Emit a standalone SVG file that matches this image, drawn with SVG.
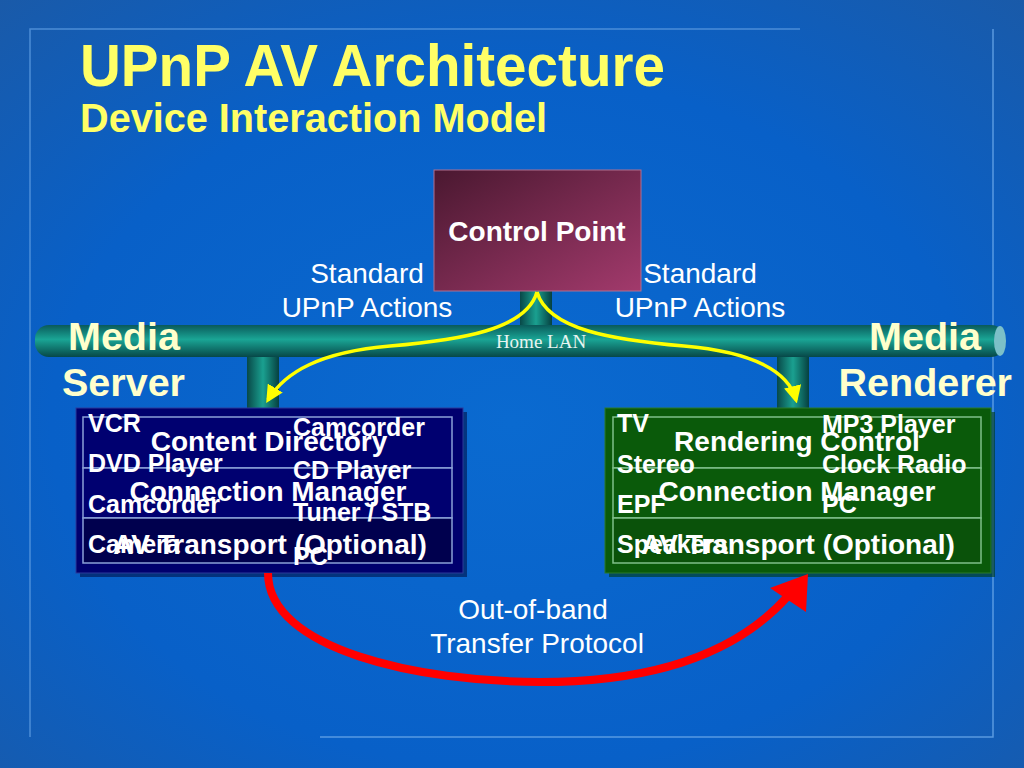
<svg xmlns="http://www.w3.org/2000/svg" width="1024" height="768" viewBox="0 0 1024 768">
<defs>
<radialGradient id="bg" cx="0.5" cy="0.55" r="0.75">
<stop offset="0" stop-color="#0a6ad0"/>
<stop offset="0.6" stop-color="#0860c8"/>
<stop offset="1" stop-color="#1a5aa8"/>
</radialGradient>
<linearGradient id="cp" x1="0" y1="0" x2="1" y2="1">
<stop offset="0" stop-color="#4a1830"/>
<stop offset="1" stop-color="#a23a6c"/>
</linearGradient>
<linearGradient id="pipeH" x1="0" y1="0" x2="0" y2="1">
<stop offset="0" stop-color="#0a5a5a"/>
<stop offset="0.45" stop-color="#1aa595"/>
<stop offset="1" stop-color="#074848"/>
</linearGradient>
<linearGradient id="pipeV" x1="0" y1="0" x2="1" y2="0">
<stop offset="0" stop-color="#084848"/>
<stop offset="0.5" stop-color="#1aa090"/>
<stop offset="1" stop-color="#064040"/>
</linearGradient>
<marker id="ya" viewBox="0 0 10 10" refX="8" refY="5" markerWidth="5" markerHeight="5" orient="auto" markerUnits="strokeWidth">
<path d="M0,0 L10,5 L0,10 z" fill="#ffff00"/>
</marker>
<style>
.t{font-family:"Liberation Sans",Arial,sans-serif}
.title{fill:#ffff66;font-weight:bold}
.lbl{fill:#ffffff;font-size:28px}
.big{fill:#ffffcc;font-weight:bold;font-size:39.5px}
.svc{fill:#ffffff;font-weight:bold;font-size:28px}
.dev{fill:#ffffff;font-weight:bold;font-size:25px}
.row{stroke:#8aa0d8;stroke-width:1.5}
.rowg{stroke:#7fc08a;stroke-width:1.5}
</style>
</defs>
<rect x="0" y="0" width="1024" height="768" fill="url(#bg)"/>
<path d="M30,737 V29 H800" fill="none" stroke="#5a9ae0" stroke-width="1.5" opacity="0.8"/>
<path d="M320,737 H993 V29" fill="none" stroke="#6aa8ea" stroke-width="1.5" opacity="0.8"/>

<g id="title">
<text class="t title" x="80" y="86" font-size="60" textLength="585" lengthAdjust="spacingAndGlyphs">UPnP AV Architecture</text>
<text class="t title" x="80" y="132" font-size="40" textLength="467" lengthAdjust="spacingAndGlyphs">Device Interaction Model</text>
</g>

<g id="lan">
<rect x="520" y="288" width="32" height="40" fill="url(#pipeV)"/>
<rect x="247" y="352" width="32" height="58" fill="url(#pipeV)"/>
<rect x="777" y="352" width="32" height="58" fill="url(#pipeV)"/>
<rect x="35" y="325" width="970" height="32" rx="14" fill="url(#pipeH)"/>
<ellipse cx="1000" cy="341" rx="6" ry="15" fill="#7cc0c8"/>
<text x="541" y="348" font-family="Liberation Serif,serif" font-size="19" fill="#e8f4f0" text-anchor="middle">Home LAN</text>
</g>

<g id="control-point">
<rect x="434" y="170" width="207" height="121" fill="url(#cp)" stroke="#b07090" stroke-width="1"/>
<text class="t" x="537" y="241" font-size="28" font-weight="bold" fill="#ffffff" text-anchor="middle">Control Point</text>
</g>

<g id="labels" class="t">
<text class="lbl" x="367" y="283" text-anchor="middle">Standard</text>
<text class="lbl" x="367" y="317" text-anchor="middle">UPnP Actions</text>
<text class="lbl" x="700" y="283" text-anchor="middle">Standard</text>
<text class="lbl" x="700" y="317" text-anchor="middle">UPnP Actions</text>
<text class="lbl" x="533" y="619" text-anchor="middle">Out-of-band</text>
<text class="lbl" x="537" y="653" text-anchor="middle">Transfer Protocol</text>
<text class="big" x="68" y="350">Media</text>
<text class="big" x="62" y="396">Server</text>
<text class="big" x="981" y="350" text-anchor="end">Media</text>
<text class="big" x="1012" y="396" text-anchor="end">Renderer</text>
</g>

<g id="media-server" class="t">
<rect x="80" y="412" width="387" height="165" fill="#00124a" opacity="0.6"/>
<rect x="76" y="408" width="387" height="165" fill="#00006e" stroke="#2a3a9a" stroke-width="1"/>
<rect x="83" y="417" width="369" height="51" fill="#000070" class="row"/>
<rect x="83" y="468" width="369" height="50" fill="#000070" class="row"/>
<rect x="83" y="518" width="369" height="45" fill="#00004e" class="row"/>
<text class="svc" x="269" y="451" text-anchor="middle">Content Directory</text>
<text class="svc" x="268" y="501" text-anchor="middle">Connection Manager</text>
<text class="svc" x="270" y="554" text-anchor="middle">AV Transport (Optional)</text>
<text class="dev" x="88" y="432">VCR</text>
<text class="dev" x="88" y="472">DVD Player</text>
<text class="dev" x="88" y="513">Camcorder</text>
<text class="dev" x="88" y="553">Camera</text>
<text class="dev" x="293" y="436">Camcorder</text>
<text class="dev" x="293" y="479">CD Player</text>
<text class="dev" x="293" y="521">Tuner / STB</text>
<text class="dev" x="293" y="565">PC</text>
</g>

<g id="media-renderer" class="t">
<rect x="609" y="412" width="386" height="165" fill="#003a10" opacity="0.6"/>
<rect x="605" y="408" width="386" height="165" fill="#0a5a0a" stroke="#2a7a2a" stroke-width="1"/>
<rect x="613" y="417" width="368" height="51" fill="#0a5a0a" class="rowg"/>
<rect x="613" y="468" width="368" height="50" fill="#0a5a0a" class="rowg"/>
<rect x="613" y="518" width="368" height="45" fill="#0a520a" class="rowg"/>
<text class="svc" x="797" y="451" text-anchor="middle">Rendering Control</text>
<text class="svc" x="797" y="501" text-anchor="middle">Connection Manager</text>
<text class="svc" x="798" y="554" text-anchor="middle">AV Transport (Optional)</text>
<text class="dev" x="617" y="432">TV</text>
<text class="dev" x="617" y="473">Stereo</text>
<text class="dev" x="617" y="513">EPF</text>
<text class="dev" x="617" y="553">Speakers</text>
<text class="dev" x="822" y="433">MP3 Player</text>
<text class="dev" x="822" y="473">Clock Radio</text>
<text class="dev" x="822" y="513">PC</text>
</g>

<g id="connectors">
<path d="M537,292 C526,330 460,340 390,346 C320,352 285,372 268,400" fill="none" stroke="#ffff00" stroke-width="3.5" marker-end="url(#ya)"/>
<path d="M537,292 C548,330 614,340 684,346 C754,352 789,372 796,400" fill="none" stroke="#ffff00" stroke-width="3.5" marker-end="url(#ya)"/>
<path d="M268,573 C268,650 420,682 540,682 C660,682 740,650 788,596" fill="none" stroke="#ff0000" stroke-width="8"/>
<path d="M808,574 L770,588 L806,612 z" fill="#ff0000"/>
</g>
</svg>
